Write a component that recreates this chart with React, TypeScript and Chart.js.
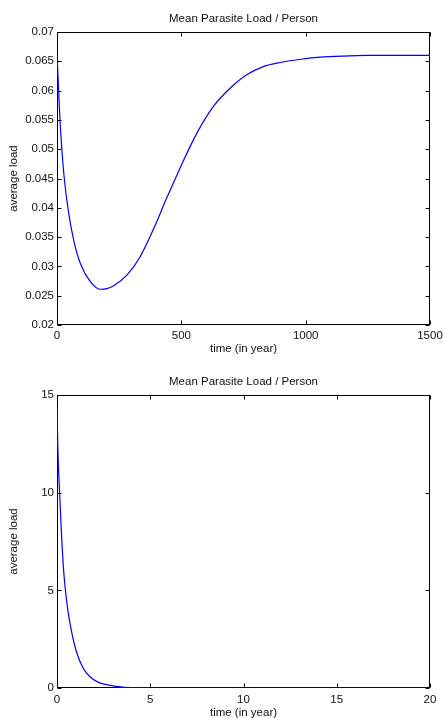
import React, { useEffect, useRef } from "react";
import { Chart, registerables } from "chart.js";

Chart.register(...registerables);

const TITLE = "Mean Parasite Load / Person";
const X_LABEL = "time (in year)";
const Y_LABEL = "average load";

// Top panel: long horizon
const years1 = [0, 4, 8, 14, 20, 30, 47, 67, 94, 134, 174, 200, 228, 281, 335, 400, 434, 469, 495, 562, 629, 696, 763, 830, 897, 990, 1057, 1150, 1250, 1350, 1500];
const load1 = [0.066, 0.0625, 0.0585, 0.0535, 0.0497, 0.0447, 0.0391, 0.0345, 0.0305, 0.0274, 0.0261, 0.0262, 0.0267, 0.0285, 0.0317, 0.0375, 0.041, 0.0443, 0.0468, 0.0527, 0.0573, 0.0604, 0.0627, 0.0641, 0.0648, 0.0654, 0.0657, 0.0659, 0.066, 0.066, 0.066];
const xTicks1 = [0, 500, 1000, 1500];
const yTicks1 = [0.02, 0.025, 0.03, 0.035, 0.04, 0.045, 0.05, 0.055, 0.06, 0.065, 0.07];

// Bottom panel: first 20 years
const years2 = [0, 0.05, 0.145, 0.235, 0.36, 0.5, 0.59, 0.8, 1.04, 1.4, 1.75, 2.2, 2.65, 3.5, 4.5, 6, 10, 15, 20];
const load2 = [14.3, 12.1, 9.9, 8.0, 5.96, 4.6, 3.92, 2.8, 1.87, 1.02, 0.59, 0.3, 0.17, 0.04, 0.01, 0, 0, 0, 0];
const xTicks2 = [0, 5, 10, 15, 20];
const yTicks2 = [0, 5, 10, 15];

const FONT_FAMILY = "'Liberation Sans', Arial, Helvetica, sans-serif";
const FONT_SIZE = 11.5;
const TEXT_COLOR = "#111";

const framePlugin = {
  id: "matlabFrame",
  beforeDatasetsDraw(chart: any) {
    const { ctx, chartArea: a, scales } = chart;
    ctx.save();
    ctx.strokeStyle = "#000";
    ctx.lineWidth = 1;
    const l = Math.round(a.left) + 0.5;
    const r = Math.round(a.right) - 0.5;
    const t = Math.round(a.top) + 0.5;
    const b = Math.round(a.bottom) - 0.5;
    ctx.strokeRect(l, t, r - l, b - t);
    const tl = 4;
    ctx.beginPath();
    for (const tk of scales.x.ticks) {
      const px = Math.round(scales.x.getPixelForValue(tk.value)) + 0.5;
      ctx.moveTo(px, b);
      ctx.lineTo(px, b - tl);
      ctx.moveTo(px, t);
      ctx.lineTo(px, t + tl);
    }
    for (const tk of scales.y.ticks) {
      const py = Math.round(scales.y.getPixelForValue(tk.value)) + 0.5;
      ctx.moveTo(l, py);
      ctx.lineTo(l + tl, py);
      ctx.moveTo(r, py);
      ctx.lineTo(r - tl, py);
    }
    ctx.stroke();
    ctx.restore();
  },
  afterDraw(chart: any) {
    const { ctx, chartArea: a } = chart;
    ctx.save();
    ctx.fillStyle = TEXT_COLOR;
    ctx.font = `${FONT_SIZE}px ${FONT_FAMILY}`;
    ctx.textAlign = "center";
    ctx.textBaseline = "middle";
    ctx.fillText(TITLE, (a.left + a.right) / 2, a.top - 13.5);
    ctx.restore();
  },
};

type PanelProps = {
  top: number;
  height: number;
  plotTop: number;
  axisH: number;
  xTickPad: number;
  xTitlePad: number;
  xs: number[];
  ys: number[];
  xTicks: number[];
  yTicks: number[];
};

function Panel(p: PanelProps) {
  const ref = useRef<HTMLCanvasElement | null>(null);
  useEffect(() => {
    if (!ref.current) return;
    const font = { family: FONT_FAMILY, size: FONT_SIZE, lineHeight: 1 };
    const chart = new Chart(ref.current, {
      type: "line",
      data: {
        datasets: [
          {
            data: p.xs.map((x, i) => ({ x, y: p.ys[i] })),
            borderColor: "#0000ff",
            borderWidth: 1.2,
            pointRadius: 0,
            fill: false,
            cubicInterpolationMode: "monotone",
          },
        ],
      },
      options: {
        animation: false,
        responsive: false,
        devicePixelRatio: 1,
        layout: { padding: { left: 0, right: 13, top: p.plotTop, bottom: 0 } },
        plugins: { legend: { display: false }, tooltip: { enabled: false }, title: { display: false } },
        scales: {
          x: {
            type: "linear",
            min: p.xTicks[0],
            max: p.xTicks[p.xTicks.length - 1],
            grid: { display: false, drawTicks: false },
            border: { display: false },
            afterBuildTicks: (s: any) => {
              s.ticks = p.xTicks.map((v) => ({ value: v }));
            },
            afterFit: (s: any) => {
              s.height = p.axisH;
              s.paddingLeft = 0;
              s.paddingRight = 0;
            },
            ticks: {
              autoSkip: false,
              maxRotation: 0,
              padding: p.xTickPad,
              color: TEXT_COLOR,
              font,
              callback: (v: any) => String(v),
            },
            title: {
              display: true,
              text: X_LABEL,
              color: TEXT_COLOR,
              font,
              padding: { top: 0, bottom: p.xTitlePad },
            },
          },
          y: {
            type: "linear",
            min: p.yTicks[0],
            max: p.yTicks[p.yTicks.length - 1],
            grid: { display: false, drawTicks: false },
            border: { display: false },
            afterBuildTicks: (s: any) => {
              s.ticks = p.yTicks.map((v) => ({ value: v }));
            },
            afterFit: (s: any) => {
              s.width = 57;
              s.paddingTop = 0;
              s.paddingBottom = 0;
            },
            ticks: {
              autoSkip: false,
              padding: 3,
              color: TEXT_COLOR,
              font,
              callback: (v: any) => String(parseFloat(Number(v).toFixed(4))),
            },
            title: {
              display: true,
              text: Y_LABEL,
              color: TEXT_COLOR,
              font,
              padding: { top: 8, bottom: 0 },
            },
          },
        },
      },
      plugins: [framePlugin],
    } as any);
    return () => chart.destroy();
  }, []);
  return (
    <canvas
      ref={ref}
      width={443}
      height={p.height}
      style={{ position: "absolute", left: 0, top: p.top, width: 443, height: p.height, display: "block" }}
    />
  );
}

export default function App() {
  return (
    <div
      style={{
        position: "absolute",
        left: 0,
        top: 0,
        width: 443,
        height: 718,
        overflow: "hidden",
        background: "#fff",
      }}
    >
      <Panel top={0} height={359} plotTop={32} axisH={34} xTickPad={5} xTitlePad={4.25} xs={years1} ys={load1} xTicks={xTicks1} yTicks={yTicks1} />
      <Panel top={359} height={365} plotTop={36} axisH={36} xTickPad={6} xTitlePad={5.25} xs={years2} ys={load2} xTicks={xTicks2} yTicks={yTicks2} />
    </div>
  );
}
